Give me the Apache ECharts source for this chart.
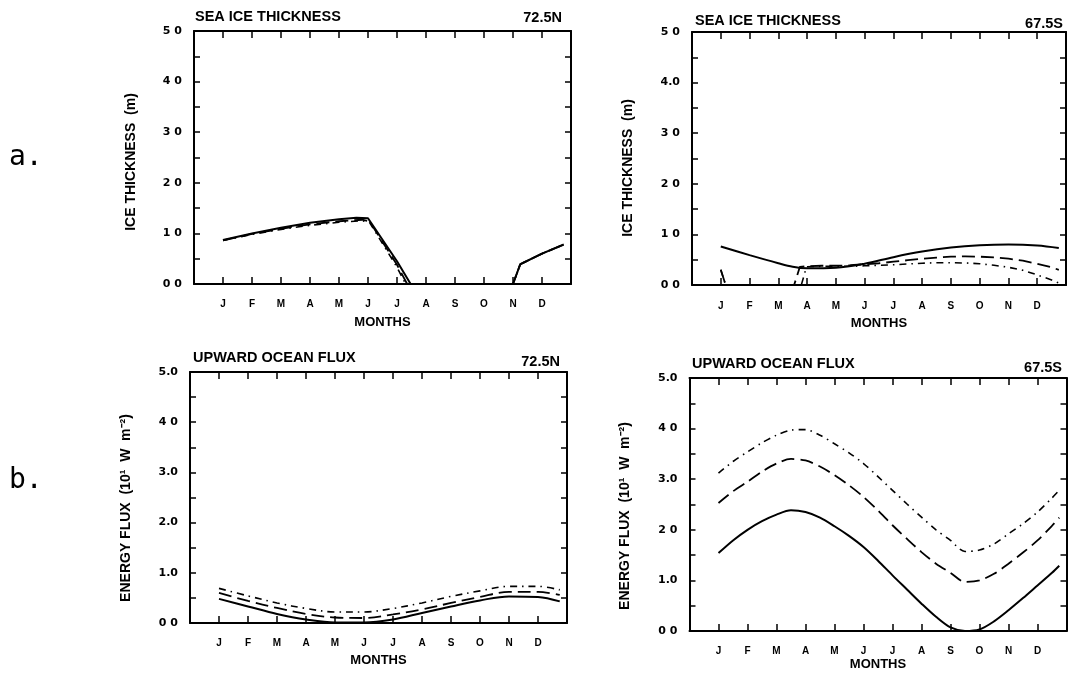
<!DOCTYPE html>
<html>
<head>
<meta charset="utf-8">
<script src="https://cdn.jsdelivr.net/npm/echarts@6/dist/echarts.min.js"></script>
<style>
  html, body { margin: 0; padding: 0; background: #fff; }
  #chart { width: 1070px; height: 673px; }
</style>
</head>
<body>
<div id="chart"></div>
<script>
// Month letters; x positions are month numbers (J = 1 ... D = 12)
const MONTHS = ['J', 'F', 'M', 'A', 'M', 'J', 'J', 'A', 'S', 'O', 'N', 'D'];

// Tick label text on each y axis, index = value (0..5)
const ICE_72N_TICKS  = ['0 0', '1 0', '2 0', '3 0', '4 0', '5 0'];
const ICE_67S_TICKS  = ['0 0', '1 0', '2 0', '3 0', '4.0', '5 0'];
const FLUX_72N_TICKS = ['0 0', '1.0', '2.0', '3.0', '4 0', '5.0'];
const FLUX_67S_TICKS = ['0 0', '1.0', '2 0', '3.0', '4 0', '5.0'];

// Sea ice thickness (m), 72.5N
const ice72N_solid_x = [1, 2, 3, 4, 5, 5.6, 6, 7, 7.47, 11, 11.25, 12, 12.75];
const ice72N_solid   = [0.87, 1.00, 1.11, 1.21, 1.28, 1.31, 1.30, 0.45, 0, 0, 0.39, 0.60, 0.78];
const ice72N_dash_x  = [1, 2, 3, 4, 5, 5.8, 6.05, 7, 7.35, 11, 11.25, 12, 12.75];
const ice72N_dash    = [0.86, 0.99, 1.09, 1.18, 1.24, 1.27, 1.24, 0.38, 0, 0, 0.39, 0.60, 0.78];
const ice72N_dot_x   = [1, 2, 3, 4, 5, 5.8, 6.05, 7, 7.3, 11, 11.25, 12, 12.75];
const ice72N_dot     = [0.86, 0.98, 1.08, 1.16, 1.22, 1.25, 1.22, 0.33, 0, 0, 0.39, 0.60, 0.78];

// Sea ice thickness (m), 67.5S
const ice67S_solid_x = [1, 2, 3, 3.5, 4, 5, 6, 7, 8, 9, 10, 11, 12, 12.75];
const ice67S_solid   = [0.76, 0.59, 0.43, 0.36, 0.33, 0.34, 0.42, 0.55, 0.66, 0.74, 0.785, 0.80, 0.78, 0.73];
const ice67S_dash_x  = [1, 1.17, 3.55, 3.75, 4, 4.5, 5, 5.5, 6, 6.5, 7, 7.5, 8, 8.5, 9, 9.5, 10, 10.5, 11, 11.5, 12, 12.5, 12.75];
const ice67S_dash    = [0.30, 0, 0, 0.36, 0.37, 0.38, 0.38, 0.39, 0.41, 0.43, 0.46, 0.49, 0.52, 0.54, 0.56, 0.565, 0.56, 0.545, 0.52, 0.48, 0.42, 0.35, 0.30];
const ice67S_dot_x   = [1, 1.17, 3.8, 3.98, 4.5, 5, 5.5, 6, 6.5, 7, 7.5, 8, 8.5, 9, 9.5, 10, 10.5, 11, 11.5, 12, 12.5, 12.75];
const ice67S_dot     = [0.30, 0, 0, 0.36, 0.37, 0.37, 0.37, 0.38, 0.39, 0.40, 0.415, 0.43, 0.44, 0.44, 0.435, 0.42, 0.39, 0.35, 0.29, 0.20, 0.10, 0.04];

// Upward ocean flux (10^1 W m^-2), 72.5N
const flux72N_x     = [1, 2, 3, 4, 5, 6, 7, 8, 9, 10, 11, 12, 12.75];
const flux72N_solid = [0.48, 0.33, 0.18, 0.07, 0.01, 0.01, 0.07, 0.20, 0.33, 0.45, 0.53, 0.52, 0.43];
const flux72N_dash  = [0.60, 0.44, 0.30, 0.18, 0.11, 0.10, 0.17, 0.27, 0.40, 0.52, 0.62, 0.62, 0.56];
const flux72N_dot   = [0.69, 0.54, 0.40, 0.29, 0.22, 0.22, 0.29, 0.40, 0.53, 0.64, 0.73, 0.73, 0.66];

// Upward ocean flux (10^1 W m^-2), 67.5S, read every half month
const flux67S_x     = [1, 1.5, 2, 2.5, 3, 3.5, 4, 4.5, 5, 5.5, 6, 6.5, 7, 7.5, 8, 8.5, 9, 9.5, 10, 10.5, 11, 11.5, 12, 12.5, 12.75];
const flux67S_solid = [1.54, 1.79, 2.00, 2.17, 2.30, 2.385, 2.35, 2.24, 2.07, 1.88, 1.66, 1.39, 1.10, 0.82, 0.54, 0.28, 0.07, 0.00, 0.03, 0.19, 0.41, 0.65, 0.90, 1.15, 1.29];
const flux67S_dash  = [2.53, 2.76, 2.95, 3.15, 3.31, 3.40, 3.37, 3.25, 3.08, 2.88, 2.65, 2.38, 2.09, 1.82, 1.56, 1.33, 1.15, 0.97, 1.00, 1.13, 1.33, 1.55, 1.79, 2.08, 2.24];
const flux67S_dot   = [3.12, 3.35, 3.54, 3.72, 3.87, 3.97, 3.98, 3.87, 3.70, 3.52, 3.31, 3.05, 2.78, 2.51, 2.25, 2.00, 1.79, 1.57, 1.60, 1.72, 1.92, 2.12, 2.35, 2.63, 2.78];

const zip = (xs, ys) => xs.map((x, i) => [x, ys[i]]);

const FONT = '"Liberation Sans", Arial, sans-serif';
const TICK_FONT = '"DejaVu Sans", "Liberation Sans", sans-serif';

const STYLE_SOLID = { color: '#000', width: 2, type: 'solid' };
const STYLE_DASH  = { color: '#000', width: 1.8, type: [13, 6] };
const STYLE_DOT   = { color: '#000', width: 1.6, type: [7, 5, 1.5, 5] };

const panels = [
  {
    grid: { left: 194, top: 31, width: 377, height: 253 },
    ticks: ICE_72N_TICKS, monthsGap: 32, labelMargin: 15, smooth: false,
    lines: [
      [zip(ice72N_dot_x, ice72N_dot), STYLE_DOT],
      [zip(ice72N_dash_x, ice72N_dash), STYLE_DASH],
      [zip(ice72N_solid_x, ice72N_solid), STYLE_SOLID]
    ]
  },
  {
    grid: { left: 692, top: 32, width: 374, height: 253 },
    ticks: ICE_67S_TICKS, monthsGap: 31.5, labelMargin: 16.5, smooth: false,
    lines: [
      [zip(ice67S_dot_x, ice67S_dot), STYLE_DOT, false],
      [zip(ice67S_dash_x, ice67S_dash), STYLE_DASH, false],
      [zip(ice67S_solid_x, ice67S_solid), STYLE_SOLID, 0.35]
    ]
  },
  {
    grid: { left: 190, top: 372, width: 377, height: 251 },
    ticks: FLUX_72N_TICKS, monthsGap: 30.5, labelMargin: 15, smooth: 0.35,
    lines: [
      [zip(flux72N_x, flux72N_dot), STYLE_DOT],
      [zip(flux72N_x, flux72N_dash), STYLE_DASH],
      [zip(flux72N_x, flux72N_solid), STYLE_SOLID]
    ]
  },
  {
    grid: { left: 689.5, top: 378, width: 377, height: 253 },
    ticks: FLUX_67S_TICKS, monthsGap: 26.5, labelMargin: 15, smooth: 0.3,
    lines: [
      [zip(flux67S_x, flux67S_dot), STYLE_DOT],
      [zip(flux67S_x, flux67S_dash), STYLE_DASH],
      [zip(flux67S_x, flux67S_solid), STYLE_SOLID]
    ]
  }
];

const AXIS_LINE = { show: true, onZero: false, lineStyle: { color: '#000', width: 2 } };
const TICK_LINE = { color: '#000', width: 1.5 };

const grids = [], xAxes = [], yAxes = [], series = [];

panels.forEach((p, i) => {
  grids.push(Object.assign({ containLabel: false }, p.grid));

  // bottom axis with month letters
  xAxes.push({
    type: 'value', gridIndex: i, position: 'bottom', min: 0, max: 13, interval: 1,
    axisLine: AXIS_LINE,
    axisTick: { show: true, inside: true, length: 7, lineStyle: TICK_LINE },
    axisLabel: {
      margin: p.labelMargin, color: '#000', fontFamily: FONT, fontWeight: 'bold', fontSize: 10,
      formatter: v => MONTHS[Math.round(v) - 1] || ''
    },
    splitLine: { show: false },
    name: 'MONTHS', nameLocation: 'middle', nameGap: p.monthsGap,
    nameTextStyle: { color: '#000', fontFamily: FONT, fontWeight: 'bold', fontSize: 13 }
  });
  // top frame edge with inward ticks
  xAxes.push({
    type: 'value', gridIndex: i, position: 'top', min: 0, max: 13, interval: 1,
    axisLine: AXIS_LINE,
    axisTick: { show: true, inside: true, length: 7, lineStyle: TICK_LINE },
    axisLabel: { show: false }, splitLine: { show: false }
  });
  // left value axis
  yAxes.push({
    type: 'value', gridIndex: i, position: 'left', min: 0, max: 5, interval: 0.5,
    axisLine: AXIS_LINE,
    axisTick: { show: true, inside: true, length: 6, lineStyle: TICK_LINE },
    axisLabel: {
      margin: 12, color: '#000', fontFamily: TICK_FONT, fontWeight: 'bold', fontSize: 11,
      formatter: v => Math.abs(v - Math.round(v)) < 1e-6 ? p.ticks[Math.round(v)] : ''
    },
    splitLine: { show: false }
  });
  // right frame edge with inward ticks
  yAxes.push({
    type: 'value', gridIndex: i, position: 'right', min: 0, max: 5, interval: 0.5,
    axisLine: AXIS_LINE,
    axisTick: { show: true, inside: true, length: 6, lineStyle: TICK_LINE },
    axisLabel: { show: false }, splitLine: { show: false }
  });

  p.lines.forEach(([data, style, sm]) => {
    series.push({
      type: 'line', xAxisIndex: 2 * i, yAxisIndex: 2 * i,
      data: data, symbol: 'none', showSymbol: false,
      smooth: sm !== undefined ? sm : p.smooth,
      lineStyle: style, silent: true
    });
  });
});

function txt(text, x, y, opts) {
  return {
    type: 'text', x: x, y: y, rotation: (opts && opts.rotation) || 0, silent: true,
    style: Object.assign({
      text: text, fill: '#000', align: 'left', verticalAlign: 'middle',
      font: 'bold 14.5px ' + FONT
    }, opts && opts.style)
  };
}

const ICE_NAME = 'ICE THICKNESS  (m)';
const FLUX_NAME = 'ENERGY FLUX  (10\u00B9  W  m\u207B\u00B2)';
const NAME_FONT = 'bold 14px ' + FONT;
const LETTER_FONT = '28px "DejaVu Sans Mono", monospace';

const graphics = [
  // panel letters
  txt('a.', 9, 158, { style: { font: LETTER_FONT } }),
  txt('b.', 9, 481, { style: { font: LETTER_FONT } }),
  // panel titles and latitudes
  txt('SEA ICE THICKNESS', 195, 17),
  txt('72.5N', 562, 18, { style: { align: 'right' } }),
  txt('SEA ICE THICKNESS', 695, 20.5),
  txt('67.5S', 1063, 24, { style: { align: 'right' } }),
  txt('UPWARD OCEAN FLUX', 193, 358),
  txt('72.5N', 560, 361.5, { style: { align: 'right' } }),
  txt('UPWARD OCEAN FLUX', 692, 364),
  txt('67.5S', 1062, 368, { style: { align: 'right' } }),
  // y-axis names
  txt(ICE_NAME, 131, 162, { rotation: Math.PI / 2, style: { align: 'center', font: NAME_FONT } }),
  txt(ICE_NAME, 628, 168, { rotation: Math.PI / 2, style: { align: 'center', font: NAME_FONT } }),
  txt(FLUX_NAME, 126, 508, { rotation: Math.PI / 2, style: { align: 'center', font: NAME_FONT } }),
  txt(FLUX_NAME, 625, 516, { rotation: Math.PI / 2, style: { align: 'center', font: NAME_FONT } })
];

const chart = echarts.init(document.getElementById('chart'), null, { renderer: 'canvas' });
chart.setOption({
  animation: false,
  backgroundColor: '#fff',
  grid: grids,
  xAxis: xAxes,
  yAxis: yAxes,
  series: series,
  graphic: graphics
});
</script>
</body>
</html>
